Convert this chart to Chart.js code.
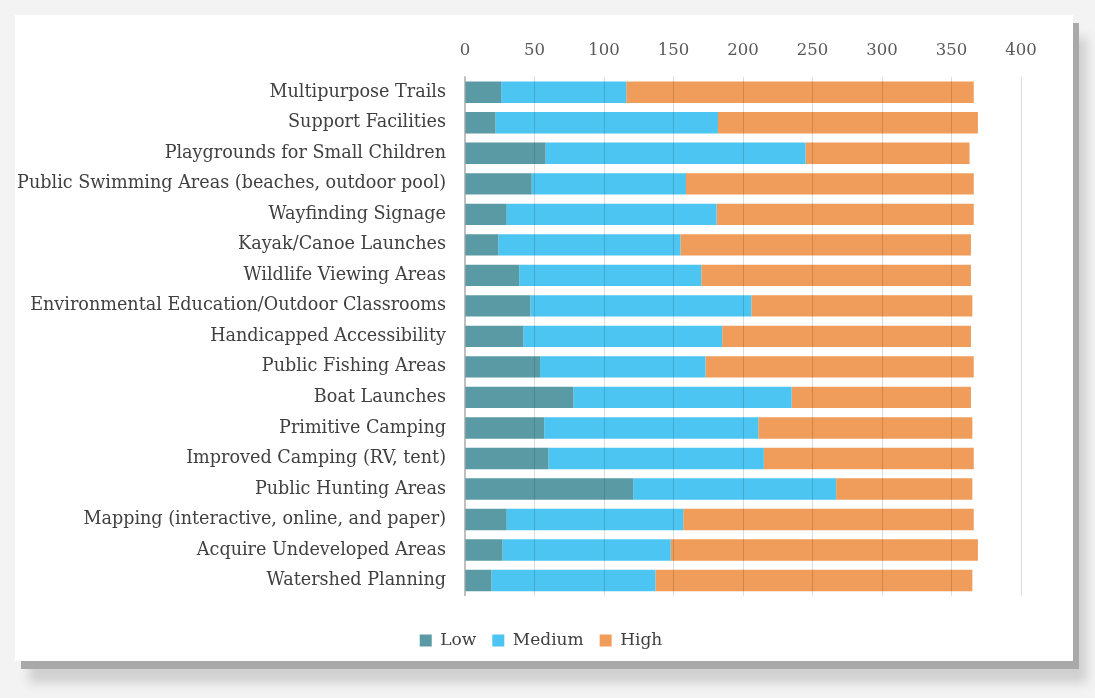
<!DOCTYPE html>
<html>
<head>
<meta charset="utf-8">
<script src="https://cdn.jsdelivr.net/npm/chart.js@4"></script>
<style>
  html, body { margin: 0; padding: 0; }
  body {
    width: 1095px; height: 698px; overflow: hidden;
    background: #f3f3f3; position: relative;
  }
  .card {
    position: absolute; left: 15px; top: 15px;
    width: 1058px; height: 646px;
    background: #fff;
    box-shadow: 6px 8px 0 #a9a9a9, 14px 22px 10px #d0d0d0;
  }
  canvas { display: block; }
</style>
</head>
<body>
<div class="card">
  <canvas id="needsChart" width="1058" height="646"></canvas>
</div>
<script>
// 施設ニーズ（Low / Medium / High の回答数）
const categories = [
  'Multipurpose Trails',
  'Support Facilities',
  'Playgrounds for Small Children',
  'Public Swimming Areas (beaches, outdoor pool)',
  'Wayfinding Signage',
  'Kayak/Canoe Launches',
  'Wildlife Viewing Areas',
  'Environmental Education/Outdoor Classrooms',
  'Handicapped Accessibility',
  'Public Fishing Areas',
  'Boat Launches',
  'Primitive Camping',
  'Improved Camping (RV, tent)',
  'Public Hunting Areas',
  'Mapping (interactive, online, and paper)',
  'Acquire Undeveloped Areas',
  'Watershed Planning'
];
const lowValues    = [26, 22, 58, 48, 30, 24, 39, 47, 42, 54, 78, 57, 60, 121, 30, 27, 19];
const mediumValues = [90, 160, 187, 111, 151, 131, 131, 159, 143, 119, 157, 154, 155, 146, 127, 121, 118];
const highValues   = [250, 187, 118, 207, 185, 209, 194, 159, 179, 193, 129, 154, 151, 98, 209, 221, 228];
const xTicks = [0, 50, 100, 150, 200, 250, 300, 350, 400];

const serif = '"DejaVu Serif", serif';

// 凡例を少し右へずらす（y軸ラベルを切らないため余白ではなくここで調整）
const legendShift = {
  id: 'legendShift',
  afterLayout(chart) {
    chart.legend.left += 46;
  }
};

const ctx = document.getElementById('needsChart').getContext('2d');

new Chart(ctx, {
  type: 'bar',
  data: {
    labels: categories,
    datasets: [
      { label: 'Low', data: lowValues, backgroundColor: '#5a9aa5' },
      { label: 'Medium', data: mediumValues, backgroundColor: '#4dc5f2' },
      { label: 'High', data: highValues, backgroundColor: '#f09c5a' }
    ]
  },
  options: {
    indexAxis: 'y',
    responsive: false,
    animation: false,
    datasets: {
      bar: { barPercentage: 0.7, categoryPercentage: 1 }
    },
    layout: { padding: { left: 0, right: 52, top: 0, bottom: 2 } },
    scales: {
      x: {
        position: 'top',
        stacked: true,
        min: 0,
        max: 400,
        afterBuildTicks: scale => {
          scale.ticks = xTicks.map(v => ({ value: v }));
        },
        afterFit: scale => { scale.height = 62; },
        grid: {
          color: 'rgba(0,0,0,0.14)',
          drawTicks: false,
          z: 1
        },
        border: { display: false },
        ticks: {
          color: '#595959',
          padding: 16,
          font: { family: serif, size: 16.5 }
        }
      },
      y: {
        stacked: true,
        afterFit: scale => { scale.width = 450; },
        grid: { display: false },
        border: { display: true, color: '#bfbfbf', width: 1.5 },
        ticks: {
          color: '#404040',
          padding: 11,
          autoSkip: false,
          font: { family: serif, size: 17.6 }
        }
      }
    },
    plugins: {
      legend: {
        position: 'bottom',
        title: { display: true, text: '', padding: { top: 19, bottom: 0 }, font: { size: 1 } },
        labels: {
          boxWidth: 12,
          boxHeight: 12,
          padding: 16,
          color: '#404040',
          font: { family: serif, size: 17 }
        }
      },
      tooltip: { enabled: false }
    }
  },
  plugins: [legendShift]
});
</script>
</body>
</html>
